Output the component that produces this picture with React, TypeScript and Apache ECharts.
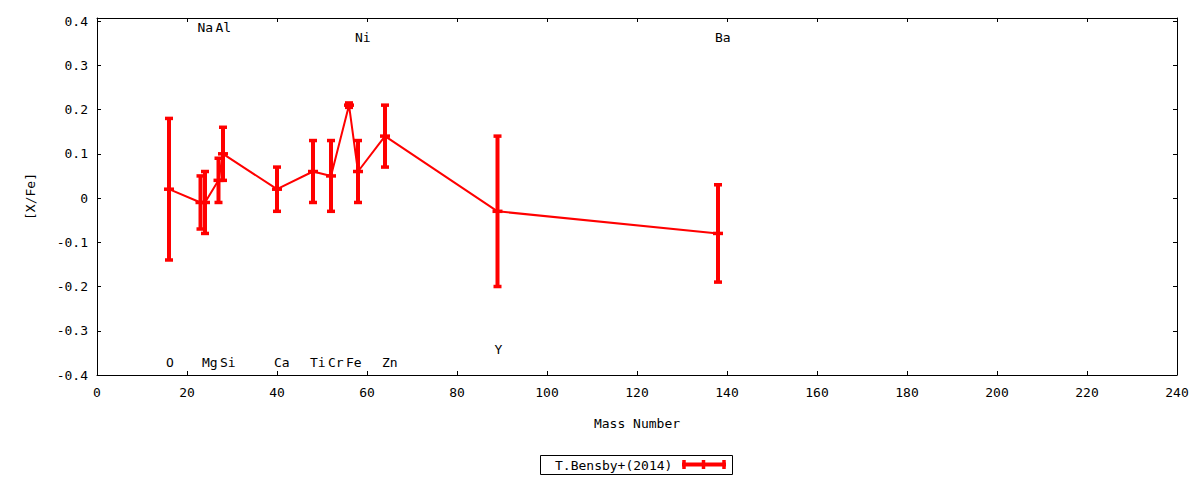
import React, { useEffect, useRef } from "react";
import * as echarts from "echarts";

// Elements (mass number, [X/Fe], error)
const elements = ["O", "Na", "Mg", "Al", "Si", "Ca", "Ti", "Cr", "Fe", "Ni", "Zn", "Y", "Ba"];
const massNumbers = [16, 23, 24, 27, 28, 40, 48, 52, 56, 58, 64, 89, 138];
const xFe = [0.02, -0.01, -0.01, 0.04, 0.1, 0.02, 0.06, 0.05, 0.21, 0.06, 0.14, -0.03, -0.08];
const xFeErr = [0.16, 0.06, 0.07, 0.05, 0.06, 0.05, 0.07, 0.08, 0.005, 0.07, 0.07, 0.17, 0.11];

// Element name annotations (placed near each mass number)
const labelNames = ["O", "Na", "Mg", "Al", "Si", "Ca", "Ti", "Cr", "Fe", "Ni", "Zn", "Y", "Ba"];
const labelX = [16, 23, 24, 27, 28, 40, 48, 52, 56, 58, 64, 89, 138];
const labelY = [-0.372, 0.386, -0.372, 0.386, -0.372, -0.372, -0.372, -0.372, -0.372, 0.362, -0.372, -0.342, 0.362];

const xTicks = { min: 0, max: 240, interval: 20 };
const yTicks = { min: -0.4, max: 0.407, interval: 0.1 };

const seriesName = "T.Bensby+(2014)";
const RED = "#ff0000";
const FONT = '"DejaVu Sans Mono", monospace';

export default function App() {
  const ref = useRef<HTMLDivElement>(null);

  useEffect(() => {
    if (!ref.current) return;
    const chart = echarts.init(ref.current, undefined, { renderer: "svg" });

    const lineData = massNumbers.map((m, i) => [m, xFe[i]]);
    const errData = massNumbers.map((m, i) => [m, xFe[i], xFe[i] - xFeErr[i], xFe[i] + xFeErr[i]]);
    const labelData = labelNames.map((n, i) => [labelX[i], labelY[i], n]);

    const axisCommon = {
      axisLine: { show: true, onZero: false, lineStyle: { color: "#000", width: 1 } },
      axisTick: { show: true, inside: true, length: 4, lineStyle: { color: "#000", width: 1 } },
      splitLine: { show: false },
    };

    const yFormatter = (v: number) => {
      if (Math.abs(v * 10 - Math.round(v * 10)) > 1e-6) return "";
      const r = Math.round(v * 10) / 10;
      return r === 0 ? "0" : String(r);
    };

    chart.setOption({
      animation: false,
      backgroundColor: "#fff",
      grid: { left: 97, top: 18, width: 1080, height: 357, containLabel: false },
      xAxis: [
        {
          type: "value",
          position: "bottom",
          min: xTicks.min,
          max: xTicks.max,
          interval: xTicks.interval,
          name: "Mass Number",
          nameLocation: "middle",
          nameGap: 42,
          nameTextStyle: { color: "#000", fontSize: 13, fontFamily: FONT },
          axisLabel: { color: "#000", fontSize: 13, fontFamily: FONT, margin: 11 },
          ...axisCommon,
        },
        {
          type: "value",
          position: "top",
          min: xTicks.min,
          max: xTicks.max,
          interval: xTicks.interval,
          axisLabel: { show: false },
          ...axisCommon,
        },
      ],
      yAxis: [
        {
          type: "value",
          position: "left",
          min: yTicks.min,
          max: yTicks.max,
          interval: yTicks.interval,
          name: "[X/Fe]",
          nameLocation: "middle",
          nameGap: 60,
          nameTextStyle: { color: "#000", fontSize: 13, fontFamily: FONT },
          axisLabel: { color: "#000", fontSize: 13, fontFamily: FONT, margin: 9, formatter: yFormatter },
          ...axisCommon,
        },
        {
          type: "value",
          position: "right",
          min: yTicks.min,
          max: yTicks.max,
          interval: yTicks.interval,
          axisLabel: { show: false },
          ...axisCommon,
        },
      ],
      series: [
        {
          type: "line",
          name: seriesName,
          data: lineData,
          symbol: "none",
          lineStyle: { color: RED, width: 2 },
          itemStyle: { color: RED },
          z: 2,
        },
        {
          type: "custom",
          name: seriesName + " err",
          data: errData,
          encode: { x: 0, y: 1 },
          z: 3,
          renderItem: (params: any, api: any) => {
            const x = api.value(0);
            const y = api.value(1);
            const lo = api.value(2);
            const hi = api.value(3);
            const pc = api.coord([x, y]);
            const pl = api.coord([x, lo]);
            const ph = api.coord([x, hi]);
            const cap = 4;
            const st = { stroke: RED, lineWidth: 3.5 };
            return {
              type: "group",
              children: [
                { type: "line", shape: { x1: pc[0], y1: ph[1], x2: pc[0], y2: pl[1] }, style: { stroke: RED, lineWidth: 4 } },
                { type: "line", shape: { x1: pc[0] - cap, y1: ph[1], x2: pc[0] + cap, y2: ph[1] }, style: st },
                { type: "line", shape: { x1: pc[0] - cap, y1: pl[1], x2: pc[0] + cap, y2: pl[1] }, style: st },
                { type: "line", shape: { x1: pc[0] - cap - 1, y1: pc[1], x2: pc[0] + cap + 1, y2: pc[1] }, style: st },
              ],
            };
          },
        },
        {
          type: "custom",
          name: "labels",
          data: labelData,
          encode: { x: 0, y: 1 },
          z: 4,
          renderItem: (params: any, api: any) => {
            const idx = params.dataIndex;
            const p = api.coord([labelX[idx], labelY[idx]]);
            return {
              type: "text",
              x: p[0] - 3,
              y: p[1],
              style: {
                text: labelNames[idx],
                fill: "#000",
                fontSize: 13,
                fontFamily: FONT,
                align: "left",
                verticalAlign: "middle",
              },
            };
          },
        },
      ],
      graphic: [
        {
          type: "rect",
          shape: { x: 540.5, y: 455.5, width: 192, height: 19 },
          style: { fill: "none", stroke: "#000", lineWidth: 1 },
        },
        {
          type: "text",
          x: 555,
          y: 465,
          style: { text: seriesName, fill: "#000", fontSize: 13, fontFamily: FONT, align: "left", verticalAlign: "middle" },
        },
        { type: "line", shape: { x1: 682, y1: 464.5, x2: 726, y2: 464.5 }, style: { stroke: RED, lineWidth: 4 } },
        { type: "line", shape: { x1: 684, y1: 460, x2: 684, y2: 469 }, style: { stroke: RED, lineWidth: 3.5 } },
        { type: "line", shape: { x1: 724, y1: 460, x2: 724, y2: 469 }, style: { stroke: RED, lineWidth: 3.5 } },
        { type: "line", shape: { x1: 703.5, y1: 460, x2: 703.5, y2: 469 }, style: { stroke: RED, lineWidth: 3.5 } },
      ],
    });

    return () => chart.dispose();
  }, []);

  return (
    <div
      ref={ref}
      style={{ position: "fixed", left: 0, top: 0, width: 1200, height: 480, background: "#fff" }}
    />
  );
}
